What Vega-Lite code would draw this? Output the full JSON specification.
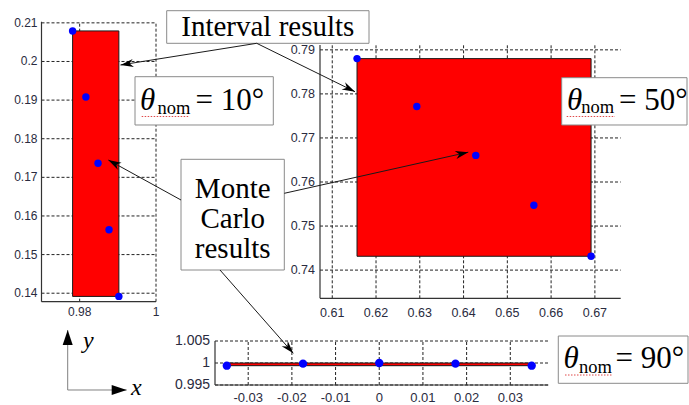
{
  "$schema": "https://vega.github.io/schema/vega-lite/v6.json",
  "width": 689,
  "height": 405,
  "padding": 0,
  "autosize": {"type": "none"},
  "background": "white",
  "config": {"view": {"stroke": null}},
  "datasets": {
    "p1_mc": [
      {"theta": 12, "x": 0.97815, "y": 0.20791},
      {"theta": 11, "x": 0.98163, "y": 0.19081},
      {"theta": 10, "x": 0.98481, "y": 0.17365},
      {"theta": 9, "x": 0.98769, "y": 0.15643},
      {"theta": 8, "x": 0.99027, "y": 0.13917}
    ],
    "p1_int": [{"xlo": 0.97815, "xhi": 0.99027, "ylo": 0.13917, "yhi": 0.20791}],
    "p1_frame": [{"x0": 0.97, "x1": 1.0, "y0": 0.1378, "y1": 0.2103}],
    "p1_xgrid": [{"x": 0.98}, {"x": 1.0}],
    "p1_ygrid": [{"y": 0.14}, {"y": 0.15}, {"y": 0.16}, {"y": 0.17}, {"y": 0.18}, {"y": 0.19}, {"y": 0.2}, {"y": 0.21}],
    "p2_mc": [
      {"theta": 52, "x": 0.61566, "y": 0.78801},
      {"theta": 51, "x": 0.62932, "y": 0.77715},
      {"theta": 50, "x": 0.64279, "y": 0.76604},
      {"theta": 49, "x": 0.65606, "y": 0.75471},
      {"theta": 48, "x": 0.66913, "y": 0.74314}
    ],
    "p2_int": [{"xlo": 0.61566, "xhi": 0.66913, "ylo": 0.74314, "yhi": 0.78801}],
    "p2_frame": [{"x0": 0.6072, "x1": 0.6759, "y0": 0.7336, "y1": 0.7911}],
    "p2_xgrid": [{"x": 0.61}, {"x": 0.62}, {"x": 0.63}, {"x": 0.64}, {"x": 0.65}, {"x": 0.66}, {"x": 0.67}],
    "p2_ygrid": [{"y": 0.74}, {"y": 0.75}, {"y": 0.76}, {"y": 0.77}, {"y": 0.78}, {"y": 0.79}],
    "p3_mc": [
      {"theta": 92, "x": -0.034899, "y": 0.99939},
      {"theta": 91, "x": -0.017452, "y": 0.99985},
      {"theta": 90, "x": 0.0, "y": 1.0},
      {"theta": 89, "x": 0.017452, "y": 0.99985},
      {"theta": 88, "x": 0.034899, "y": 0.99939}
    ],
    "p3_int": [{"xlo": -0.034899, "xhi": 0.034899, "ylo": 0.99939, "yhi": 1.0}],
    "p3_frame": [{"x0": -0.0376, "x1": 0.0387, "y0": 0.995, "y1": 1.005}],
    "p3_xgrid": [{"x": -0.03}, {"x": -0.02}, {"x": -0.01}, {"x": 0}, {"x": 0.01}, {"x": 0.02}, {"x": 0.03}],
    "p3_ygrid": [{"y": 0.995}, {"y": 1.0}, {"y": 1.005}],
    "boxes": [
      {"name": "interval", "x": 0.24194, "x2": 0.53556, "y": 0.02642, "y2": 0.10691},
      {"name": "theta10", "x": 0.19594, "x2": 0.39666, "y": 0.18938, "y2": 0.30864},
      {"name": "theta50", "x": 0.81524, "x2": 0.99710, "y": 0.19185, "y2": 0.30864},
      {"name": "montecarlo", "x": 0.2627, "x2": 0.41263, "y": 0.39333, "y2": 0.66667},
      {"name": "theta90", "x": 0.81030, "x2": 0.99855, "y": 0.82963, "y2": 0.94642}
    ],
    "titles": [
      {"t": "Interval results", "x": 0.38868, "y": 0.08889},
      {"t": "Monte", "x": 0.33774, "y": 0.48889},
      {"t": "Carlo", "x": 0.33774, "y": 0.56296},
      {"t": "results", "x": 0.33774, "y": 0.63704}
    ],
    "theta_sym": [
      {"t": "θ", "x": 0.2032, "y": 0.2716},
      {"t": "θ", "x": 0.8229, "y": 0.2716},
      {"t": "θ", "x": 0.8179, "y": 0.9086}
    ],
    "theta_sub": [
      {"t": "nom", "x": 0.2286, "y": 0.2822},
      {"t": "nom", "x": 0.8437, "y": 0.2790},
      {"t": "nom", "x": 0.8403, "y": 0.9210}
    ],
    "theta_val": [
      {"t": "= 10°", "x": 0.2837, "y": 0.2716},
      {"t": "= 50°", "x": 0.8984, "y": 0.2716},
      {"t": "= 90°", "x": 0.8933, "y": 0.9086}
    ],
    "underlines": [
      {"x1": 0.20566, "x2": 0.27475, "y1": 0.28765, "y2": 0.28765},
      {"x1": 0.82250, "x2": 0.89260, "y1": 0.28765, "y2": 0.28765},
      {"x1": 0.82003, "x2": 0.88781, "y1": 0.92593, "y2": 0.92593}
    ],
    "arrows": [
      {"from": "interval", "to": "theta10", "x1": 0.37257, "y1": 0.10691, "x2": 0.17489, "y2": 0.16049},
      {"from": "interval", "to": "theta50", "x1": 0.37257, "y1": 0.10691, "x2": 0.51524, "y2": 0.22642},
      {"from": "montecarlo", "to": "theta10", "x1": 0.2627, "y1": 0.49383, "x2": 0.15718, "y2": 0.39506},
      {"from": "montecarlo", "to": "theta50", "x1": 0.41263, "y1": 0.47728, "x2": 0.67968, "y2": 0.3758},
      {"from": "montecarlo", "to": "theta90", "x1": 0.3193, "y1": 0.66667, "x2": 0.42569, "y2": 0.87235}
    ],
    "frame": [
      {"axis": "y", "x1": 0.09826, "y1": 0.96296, "x2": 0.09826, "y2": 0.81481},
      {"axis": "x", "x1": 0.09826, "y1": 0.96296, "x2": 0.18389, "y2": 0.96296}
    ],
    "frame_labels": [
      {"t": "y", "x": 0.12046, "y": 0.85926},
      {"t": "x", "x": 0.19013, "y": 0.97531}
    ]
  },
  "resolve": {"scale": {"x": "independent", "y": "independent"}},
  "layer": [
    {
      "layer": [
        {
          "data": {"name": "p1_ygrid"},
          "mark": {"type": "rule", "color": "#222222", "strokeDash": [3, 2], "strokeWidth": 1},
          "encoding": {
            "y": {"field": "y", "type": "quantitative", "scale": {"domain": [0.1378, 0.2103], "range": [301.7, 21.7], "nice": false, "zero": false}, "axis": null},
            "x": {"datum": 0.97, "type": "quantitative", "scale": {"domain": [0.97, 1.0], "range": [41.5, 156], "nice": false, "zero": false}, "axis": null},
            "x2": {"datum": 1.0}
          }
        },
        {
          "data": {"name": "p1_xgrid"},
          "mark": {"type": "rule", "color": "#222222", "strokeDash": [3, 2], "strokeWidth": 1},
          "encoding": {
            "x": {"field": "x", "type": "quantitative", "scale": {"domain": [0.97, 1.0], "range": [41.5, 156], "nice": false, "zero": false}, "axis": null},
            "y": {"datum": 0.1378, "type": "quantitative", "scale": {"domain": [0.1378, 0.2103], "range": [301.7, 21.7], "nice": false, "zero": false}, "axis": null},
            "y2": {"datum": 0.2103}
          }
        },
        {
          "data": {"name": "p1_int"},
          "mark": {"type": "rect", "fill": "#ff0000", "stroke": "#1a1a1a", "strokeWidth": 1},
          "encoding": {
            "x": {"field": "xlo", "type": "quantitative", "scale": {"domain": [0.97, 1.0], "range": [41.5, 156], "nice": false, "zero": false}, "axis": null},
            "x2": {"field": "xhi"},
            "y": {"field": "ylo", "type": "quantitative", "scale": {"domain": [0.1378, 0.2103], "range": [301.7, 21.7], "nice": false, "zero": false}, "axis": null},
            "y2": {"field": "yhi"}
          }
        },
        {
          "data": {"name": "p1_frame"},
          "mark": {"type": "rule", "color": "#333333", "strokeWidth": 1.2},
          "encoding": {
            "x": {"field": "x0", "type": "quantitative", "scale": {"domain": [0.97, 1.0], "range": [41.5, 156], "nice": false, "zero": false}, "axis": null},
            "x2": {"field": "x1"},
            "y": {"field": "y0", "type": "quantitative", "scale": {"domain": [0.1378, 0.2103], "range": [301.7, 21.7], "nice": false, "zero": false}, "axis": null}
          }
        },
        {
          "data": {"name": "p1_frame"},
          "mark": {"type": "rule", "color": "#333333", "strokeWidth": 1.2},
          "encoding": {
            "x": {"field": "x0", "type": "quantitative", "scale": {"domain": [0.97, 1.0], "range": [41.5, 156], "nice": false, "zero": false}, "axis": null},
            "y": {"field": "y0", "type": "quantitative", "scale": {"domain": [0.1378, 0.2103], "range": [301.7, 21.7], "nice": false, "zero": false}, "axis": null},
            "y2": {"field": "y1"}
          }
        },
        {
          "data": {"name": "p1_xgrid"},
          "transform": [{"calculate": "'' + datum.x", "as": "lab"}],
          "mark": {"type": "text", "font": "Liberation Sans", "fontSize": 12, "color": "#2a2b40", "align": "center", "baseline": "top", "dy": 5},
          "encoding": {
            "x": {"field": "x", "type": "quantitative", "scale": {"domain": [0.97, 1.0], "range": [41.5, 156], "nice": false, "zero": false}, "axis": null},
            "y": {"datum": 0.1378, "type": "quantitative", "scale": {"domain": [0.1378, 0.2103], "range": [301.7, 21.7], "nice": false, "zero": false}, "axis": null},
            "text": {"field": "lab"}
          }
        },
        {
          "data": {"name": "p1_ygrid"},
          "transform": [{"calculate": "'' + datum.y", "as": "lab"}],
          "mark": {"type": "text", "font": "Liberation Sans", "fontSize": 12, "color": "#2a2b40", "align": "right", "baseline": "middle", "dx": -4},
          "encoding": {
            "y": {"field": "y", "type": "quantitative", "scale": {"domain": [0.1378, 0.2103], "range": [301.7, 21.7], "nice": false, "zero": false}, "axis": null},
            "x": {"datum": 0.97, "type": "quantitative", "scale": {"domain": [0.97, 1.0], "range": [41.5, 156], "nice": false, "zero": false}, "axis": null},
            "text": {"field": "lab"}
          }
        },
        {
          "data": {"name": "p1_mc"},
          "mark": {"type": "point", "filled": true, "color": "#0000ff", "opacity": 1, "size": 55},
          "encoding": {
            "x": {"field": "x", "type": "quantitative", "scale": {"domain": [0.97, 1.0], "range": [41.5, 156], "nice": false, "zero": false}, "axis": null},
            "y": {"field": "y", "type": "quantitative", "scale": {"domain": [0.1378, 0.2103], "range": [301.7, 21.7], "nice": false, "zero": false}, "axis": null}
          }
        }
      ]
    },
    {
      "layer": [
        {
          "data": {"name": "p2_ygrid"},
          "mark": {"type": "rule", "color": "#222222", "strokeDash": [3, 2], "strokeWidth": 1},
          "encoding": {
            "y": {"field": "y", "type": "quantitative", "scale": {"domain": [0.7336, 0.7911], "range": [298.3, 45], "nice": false, "zero": false}, "axis": null},
            "x": {"datum": 0.6072, "type": "quantitative", "scale": {"domain": [0.6072, 0.6759], "range": [320, 620.7], "nice": false, "zero": false}, "axis": null},
            "x2": {"datum": 0.6759}
          }
        },
        {
          "data": {"name": "p2_xgrid"},
          "mark": {"type": "rule", "color": "#222222", "strokeDash": [3, 2], "strokeWidth": 1},
          "encoding": {
            "x": {"field": "x", "type": "quantitative", "scale": {"domain": [0.6072, 0.6759], "range": [320, 620.7], "nice": false, "zero": false}, "axis": null},
            "y": {"datum": 0.7336, "type": "quantitative", "scale": {"domain": [0.7336, 0.7911], "range": [298.3, 45], "nice": false, "zero": false}, "axis": null},
            "y2": {"datum": 0.7911}
          }
        },
        {
          "data": {"name": "p2_int"},
          "mark": {"type": "rect", "fill": "#ff0000", "stroke": "#1a1a1a", "strokeWidth": 1},
          "encoding": {
            "x": {"field": "xlo", "type": "quantitative", "scale": {"domain": [0.6072, 0.6759], "range": [320, 620.7], "nice": false, "zero": false}, "axis": null},
            "x2": {"field": "xhi"},
            "y": {"field": "ylo", "type": "quantitative", "scale": {"domain": [0.7336, 0.7911], "range": [298.3, 45], "nice": false, "zero": false}, "axis": null},
            "y2": {"field": "yhi"}
          }
        },
        {
          "data": {"name": "p2_frame"},
          "mark": {"type": "rule", "color": "#333333", "strokeWidth": 1.2},
          "encoding": {
            "x": {"field": "x0", "type": "quantitative", "scale": {"domain": [0.6072, 0.6759], "range": [320, 620.7], "nice": false, "zero": false}, "axis": null},
            "x2": {"field": "x1"},
            "y": {"field": "y0", "type": "quantitative", "scale": {"domain": [0.7336, 0.7911], "range": [298.3, 45], "nice": false, "zero": false}, "axis": null}
          }
        },
        {
          "data": {"name": "p2_frame"},
          "mark": {"type": "rule", "color": "#333333", "strokeWidth": 1.2},
          "encoding": {
            "x": {"field": "x0", "type": "quantitative", "scale": {"domain": [0.6072, 0.6759], "range": [320, 620.7], "nice": false, "zero": false}, "axis": null},
            "y": {"field": "y0", "type": "quantitative", "scale": {"domain": [0.7336, 0.7911], "range": [298.3, 45], "nice": false, "zero": false}, "axis": null},
            "y2": {"field": "y1"}
          }
        },
        {
          "data": {"name": "p2_xgrid"},
          "transform": [{"calculate": "'' + datum.x", "as": "lab"}],
          "mark": {"type": "text", "font": "Liberation Sans", "fontSize": 12.5, "color": "#2a2b40", "align": "center", "baseline": "top", "dy": 9},
          "encoding": {
            "x": {"field": "x", "type": "quantitative", "scale": {"domain": [0.6072, 0.6759], "range": [320, 620.7], "nice": false, "zero": false}, "axis": null},
            "y": {"datum": 0.7336, "type": "quantitative", "scale": {"domain": [0.7336, 0.7911], "range": [298.3, 45], "nice": false, "zero": false}, "axis": null},
            "text": {"field": "lab"}
          }
        },
        {
          "data": {"name": "p2_ygrid"},
          "transform": [{"calculate": "'' + datum.y", "as": "lab"}],
          "mark": {"type": "text", "font": "Liberation Sans", "fontSize": 12.5, "color": "#2a2b40", "align": "right", "baseline": "middle", "dx": -5},
          "encoding": {
            "y": {"field": "y", "type": "quantitative", "scale": {"domain": [0.7336, 0.7911], "range": [298.3, 45], "nice": false, "zero": false}, "axis": null},
            "x": {"datum": 0.6072, "type": "quantitative", "scale": {"domain": [0.6072, 0.6759], "range": [320, 620.7], "nice": false, "zero": false}, "axis": null},
            "text": {"field": "lab"}
          }
        },
        {
          "data": {"name": "p2_mc"},
          "mark": {"type": "point", "filled": true, "color": "#0000ff", "opacity": 1, "size": 55},
          "encoding": {
            "x": {"field": "x", "type": "quantitative", "scale": {"domain": [0.6072, 0.6759], "range": [320, 620.7], "nice": false, "zero": false}, "axis": null},
            "y": {"field": "y", "type": "quantitative", "scale": {"domain": [0.7336, 0.7911], "range": [298.3, 45], "nice": false, "zero": false}, "axis": null}
          }
        }
      ]
    },
    {
      "layer": [
        {
          "data": {"name": "p3_ygrid"},
          "mark": {"type": "rule", "color": "#222222", "strokeDash": [3, 2], "strokeWidth": 1},
          "encoding": {
            "y": {"field": "y", "type": "quantitative", "scale": {"domain": [0.995, 1.005], "range": [385, 341], "nice": false, "zero": false}, "axis": null},
            "x": {"datum": -0.0376, "type": "quantitative", "scale": {"domain": [-0.0376, 0.0387], "range": [215, 548.3], "nice": false, "zero": false}, "axis": null},
            "x2": {"datum": 0.0387}
          }
        },
        {
          "data": {"name": "p3_xgrid"},
          "mark": {"type": "rule", "color": "#222222", "strokeDash": [3, 2], "strokeWidth": 1},
          "encoding": {
            "x": {"field": "x", "type": "quantitative", "scale": {"domain": [-0.0376, 0.0387], "range": [215, 548.3], "nice": false, "zero": false}, "axis": null},
            "y": {"datum": 0.995, "type": "quantitative", "scale": {"domain": [0.995, 1.005], "range": [385, 341], "nice": false, "zero": false}, "axis": null},
            "y2": {"datum": 1.005}
          }
        },
        {
          "data": {"name": "p3_int"},
          "mark": {"type": "rect", "fill": "#ff0000", "stroke": "#1a1a1a", "strokeWidth": 1},
          "encoding": {
            "x": {"field": "xlo", "type": "quantitative", "scale": {"domain": [-0.0376, 0.0387], "range": [215, 548.3], "nice": false, "zero": false}, "axis": null},
            "x2": {"field": "xhi"},
            "y": {"field": "ylo", "type": "quantitative", "scale": {"domain": [0.995, 1.005], "range": [385, 341], "nice": false, "zero": false}, "axis": null},
            "y2": {"field": "yhi"}
          }
        },
        {
          "data": {"name": "p3_frame"},
          "mark": {"type": "rule", "color": "#333333", "strokeWidth": 1.2},
          "encoding": {
            "x": {"field": "x0", "type": "quantitative", "scale": {"domain": [-0.0376, 0.0387], "range": [215, 548.3], "nice": false, "zero": false}, "axis": null},
            "x2": {"field": "x1"},
            "y": {"field": "y0", "type": "quantitative", "scale": {"domain": [0.995, 1.005], "range": [385, 341], "nice": false, "zero": false}, "axis": null}
          }
        },
        {
          "data": {"name": "p3_frame"},
          "mark": {"type": "rule", "color": "#333333", "strokeWidth": 1.2},
          "encoding": {
            "x": {"field": "x0", "type": "quantitative", "scale": {"domain": [-0.0376, 0.0387], "range": [215, 548.3], "nice": false, "zero": false}, "axis": null},
            "y": {"field": "y0", "type": "quantitative", "scale": {"domain": [0.995, 1.005], "range": [385, 341], "nice": false, "zero": false}, "axis": null},
            "y2": {"field": "y1"}
          }
        },
        {
          "data": {"name": "p3_xgrid"},
          "transform": [{"calculate": "'' + datum.x", "as": "lab"}],
          "mark": {"type": "text", "font": "Liberation Sans", "fontSize": 13, "color": "#2a2b40", "align": "center", "baseline": "top", "dy": 7},
          "encoding": {
            "x": {"field": "x", "type": "quantitative", "scale": {"domain": [-0.0376, 0.0387], "range": [215, 548.3], "nice": false, "zero": false}, "axis": null},
            "y": {"datum": 0.995, "type": "quantitative", "scale": {"domain": [0.995, 1.005], "range": [385, 341], "nice": false, "zero": false}, "axis": null},
            "text": {"field": "lab"}
          }
        },
        {
          "data": {"name": "p3_ygrid"},
          "transform": [{"calculate": "'' + datum.y", "as": "lab"}],
          "mark": {"type": "text", "font": "Liberation Sans", "fontSize": 14, "color": "#2a2b40", "align": "right", "baseline": "middle", "dx": -5},
          "encoding": {
            "y": {"field": "y", "type": "quantitative", "scale": {"domain": [0.995, 1.005], "range": [385, 341], "nice": false, "zero": false}, "axis": null},
            "x": {"datum": -0.0376, "type": "quantitative", "scale": {"domain": [-0.0376, 0.0387], "range": [215, 548.3], "nice": false, "zero": false}, "axis": null},
            "text": {"field": "lab"}
          }
        },
        {
          "data": {"name": "p3_mc"},
          "mark": {"type": "point", "filled": true, "color": "#0000ff", "opacity": 1, "size": 70},
          "encoding": {
            "x": {"field": "x", "type": "quantitative", "scale": {"domain": [-0.0376, 0.0387], "range": [215, 548.3], "nice": false, "zero": false}, "axis": null},
            "y": {"field": "y", "type": "quantitative", "scale": {"domain": [0.995, 1.005], "range": [385, 341], "nice": false, "zero": false}, "axis": null}
          }
        }
      ]
    },
    {
      "layer": [
        {
          "data": {"name": "boxes"},
          "mark": {"type": "rect", "fill": "white", "stroke": "#8a8a8a", "strokeWidth": 1},
          "encoding": {
            "x": {"field": "x", "type": "quantitative", "scale": {"domain": [0, 1], "range": [0, 689], "nice": false, "zero": false}, "axis": null},
            "x2": {"field": "x2"},
            "y": {"field": "y", "type": "quantitative", "scale": {"domain": [0, 1], "range": [0, 405], "nice": false, "zero": false}, "axis": null},
            "y2": {"field": "y2"}
          }
        },
        {
          "data": {"name": "titles"},
          "mark": {"type": "text", "font": "Liberation Serif", "fontSize": 29, "align": "center", "baseline": "alphabetic", "color": "black"},
          "encoding": {
            "x": {"field": "x", "type": "quantitative", "scale": {"domain": [0, 1], "range": [0, 689], "nice": false, "zero": false}, "axis": null},
            "y": {"field": "y", "type": "quantitative", "scale": {"domain": [0, 1], "range": [0, 405], "nice": false, "zero": false}, "axis": null},
            "text": {"field": "t"}
          }
        },
        {
          "data": {"name": "theta_sym"},
          "mark": {"type": "text", "font": "Liberation Serif", "fontStyle": "italic", "fontSize": 31, "align": "left", "baseline": "alphabetic", "color": "black"},
          "encoding": {
            "x": {"field": "x", "type": "quantitative", "scale": {"domain": [0, 1], "range": [0, 689], "nice": false, "zero": false}, "axis": null},
            "y": {"field": "y", "type": "quantitative", "scale": {"domain": [0, 1], "range": [0, 405], "nice": false, "zero": false}, "axis": null},
            "text": {"field": "t"}
          }
        },
        {
          "data": {"name": "theta_sub"},
          "mark": {"type": "text", "font": "Liberation Serif", "fontSize": 18.5, "align": "left", "baseline": "alphabetic", "color": "black"},
          "encoding": {
            "x": {"field": "x", "type": "quantitative", "scale": {"domain": [0, 1], "range": [0, 689], "nice": false, "zero": false}, "axis": null},
            "y": {"field": "y", "type": "quantitative", "scale": {"domain": [0, 1], "range": [0, 405], "nice": false, "zero": false}, "axis": null},
            "text": {"field": "t"}
          }
        },
        {
          "data": {"name": "theta_val"},
          "mark": {"type": "text", "font": "Liberation Serif", "fontSize": 31, "align": "left", "baseline": "alphabetic", "color": "black"},
          "encoding": {
            "x": {"field": "x", "type": "quantitative", "scale": {"domain": [0, 1], "range": [0, 689], "nice": false, "zero": false}, "axis": null},
            "y": {"field": "y", "type": "quantitative", "scale": {"domain": [0, 1], "range": [0, 405], "nice": false, "zero": false}, "axis": null},
            "text": {"field": "t"}
          }
        },
        {
          "data": {"name": "underlines"},
          "mark": {"type": "rule", "color": "#e04848", "strokeWidth": 1, "strokeDash": [1.5, 1.5]},
          "encoding": {
            "x": {"field": "x1", "type": "quantitative", "scale": {"domain": [0, 1], "range": [0, 689], "nice": false, "zero": false}, "axis": null},
            "x2": {"field": "x2"},
            "y": {"field": "y1", "type": "quantitative", "scale": {"domain": [0, 1], "range": [0, 405], "nice": false, "zero": false}, "axis": null},
            "y2": {"field": "y2"}
          }
        },
        {
          "data": {"name": "arrows"},
          "mark": {"type": "rule", "color": "#1a1a1a", "strokeWidth": 1},
          "encoding": {
            "x": {"field": "x1", "type": "quantitative", "scale": {"domain": [0, 1], "range": [0, 689], "nice": false, "zero": false}, "axis": null},
            "x2": {"field": "x2"},
            "y": {"field": "y1", "type": "quantitative", "scale": {"domain": [0, 1], "range": [0, 405], "nice": false, "zero": false}, "axis": null},
            "y2": {"field": "y2"}
          }
        },
        {
          "data": {"name": "arrows"},
          "transform": [{"calculate": "atan2((datum.y2 - datum.y1) * 405, (datum.x2 - datum.x1) * 689) * 180 / PI", "as": "ang"}],
          "mark": {"type": "point", "shape": "M0,0 L-2,-0.62 L-1.4,0 L-2,0.62 Z", "filled": true, "color": "black", "opacity": 1, "size": 169, "strokeWidth": 0},
          "encoding": {
            "x": {"field": "x2", "type": "quantitative", "scale": {"domain": [0, 1], "range": [0, 689], "nice": false, "zero": false}, "axis": null},
            "y": {"field": "y2", "type": "quantitative", "scale": {"domain": [0, 1], "range": [0, 405], "nice": false, "zero": false}, "axis": null},
            "angle": {"field": "ang", "type": "quantitative", "scale": null}
          }
        },
        {
          "data": {"name": "frame"},
          "mark": {"type": "rule", "color": "#808080", "strokeWidth": 1},
          "encoding": {
            "x": {"field": "x1", "type": "quantitative", "scale": {"domain": [0, 1], "range": [0, 689], "nice": false, "zero": false}, "axis": null},
            "x2": {"field": "x2"},
            "y": {"field": "y1", "type": "quantitative", "scale": {"domain": [0, 1], "range": [0, 405], "nice": false, "zero": false}, "axis": null},
            "y2": {"field": "y2"}
          }
        },
        {
          "data": {"name": "frame"},
          "transform": [{"calculate": "atan2((datum.y2 - datum.y1) * 405, (datum.x2 - datum.x1) * 689) * 180 / PI", "as": "ang"}],
          "mark": {"type": "point", "shape": "M0,0 L-2,-0.67 L-2,0.67 Z", "filled": true, "color": "black", "opacity": 1, "size": 225, "strokeWidth": 0},
          "encoding": {
            "x": {"field": "x2", "type": "quantitative", "scale": {"domain": [0, 1], "range": [0, 689], "nice": false, "zero": false}, "axis": null},
            "y": {"field": "y2", "type": "quantitative", "scale": {"domain": [0, 1], "range": [0, 405], "nice": false, "zero": false}, "axis": null},
            "angle": {"field": "ang", "type": "quantitative", "scale": null}
          }
        },
        {
          "data": {"name": "frame_labels"},
          "mark": {"type": "text", "font": "Liberation Serif", "fontStyle": "italic", "fontSize": 24, "align": "left", "baseline": "alphabetic", "color": "black"},
          "encoding": {
            "x": {"field": "x", "type": "quantitative", "scale": {"domain": [0, 1], "range": [0, 689], "nice": false, "zero": false}, "axis": null},
            "y": {"field": "y", "type": "quantitative", "scale": {"domain": [0, 1], "range": [0, 405], "nice": false, "zero": false}, "axis": null},
            "text": {"field": "t"}
          }
        }
      ]
    }
  ]
}
